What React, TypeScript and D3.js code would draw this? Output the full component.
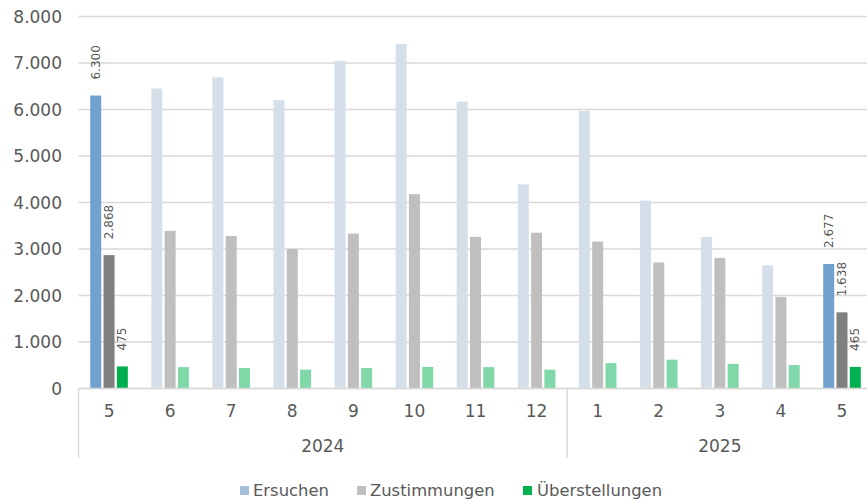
import React from "react";
import * as d3 from "d3";

const months = ["5", "6", "7", "8", "9", "10", "11", "12", "1", "2", "3", "4", "5"];
const years = [
  { label: "2024", start: 0, end: 8 },
  { label: "2025", start: 8, end: 13 },
];
const ersuchen = [6300, 6450, 6690, 6200, 7050, 7410, 6170, 4390, 5970, 4040, 3260, 2650, 2677];
const zustimmungen = [2868, 3390, 3280, 3000, 3330, 4180, 3260, 3350, 3160, 2710, 2810, 1970, 1638];
const ueberstellungen = [475, 460, 440, 405, 440, 465, 460, 405, 545, 620, 530, 505, 465];
const highlighted = [0, 12];
const yTicks = [0, 1000, 2000, 3000, 4000, 5000, 6000, 7000, 8000];
const seriesNames = ["Ersuchen", "Zustimmungen", "Überstellungen"];

const W = 867;
const H = 500;
const FONT = "'DejaVu Sans', sans-serif";

const series = [
  { name: seriesNames[0], values: ersuchen, strong: "#71A2CE", faded: "#D5DFEA", legend: "#A7BED8" },
  { name: seriesNames[1], values: zustimmungen, strong: "#7F7F7F", faded: "#BFBFBF", legend: "#BFBFBF" },
  { name: seriesNames[2], values: ueberstellungen, strong: "#00B050", faded: "#80D8A8", legend: "#00B050" },
];

const fmt = (v: number) => d3.format(",")(v).replace(/,/g, ".");

export default function App() {
  const left = 78.5;
  const step = 61.08;
  const right = left + step * months.length;
  const y = d3.scaleLinear().domain([0, 8000]).range([388.5, 16.5]);
  const x = d3
    .scaleBand<number>()
    .domain(months.map((_, i) => i))
    .range([left, right])
    .paddingInner(0)
    .paddingOuter(0);
  const barW = 11;
  const barStep = 13.3;

  const legendItems = [
    { x: 240, textX: 253 },
    { x: 357, textX: 370 },
    { x: 523, textX: 537 },
  ];

  return (
    <div style={{ position: "absolute", left: 0, top: 0 }}>
      <svg width={W} height={H} style={{ display: "block", background: "#fff" }}>
        {yTicks.map((t) => (
          <line
            key={"g" + t}
            x1={left}
            x2={right}
            y1={y(t)}
            y2={y(t)}
            stroke="#D9D9D9"
            strokeWidth={1.3}
          />
        ))}
        {yTicks.map((t) => (
          <text
            key={"yl" + t}
            x={62}
            y={y(t)}
            dy="0.36em"
            textAnchor="end"
            fontFamily={FONT}
            fontSize={17}
            fill="#595959"
          >
            {fmt(t)}
          </text>
        ))}
        {months.map((_, i) => {
          const cx = (x(i) as number) + x.bandwidth() / 2;
          const hl = highlighted.includes(i);
          return (
            <g key={"b" + i}>
              {series.map((s, k) => {
                const bx = cx + (k - 1) * barStep - barW / 2;
                const v = s.values[i];
                return (
                  <g key={k}>
                    <rect
                      x={bx}
                      y={y(v)}
                      width={barW}
                      height={y(0) - y(v)}
                      fill={hl ? s.strong : s.faded}
                    />
                    {hl && (
                      <text
                        transform={`translate(${bx + barW / 2 + 4},${y(v) - 16}) rotate(-90)`}
                        fontFamily={FONT}
                        fontSize={12}
                        fill="#595959"
                      >
                        {fmt(v)}
                      </text>
                    )}
                  </g>
                );
              })}
            </g>
          );
        })}
        <line x1={left} x2={right} y1={y(0)} y2={y(0)} stroke="#D9D9D9" strokeWidth={1.5} />
        {months.map((m, i) => (
          <text
            key={"m" + i}
            x={(x(i) as number) + x.bandwidth() / 2}
            y={411}
            dy="0.36em"
            textAnchor="middle"
            fontFamily={FONT}
            fontSize={17}
            fill="#595959"
          >
            {m}
          </text>
        ))}
        {years.map((yr) => (
          <g key={yr.label}>
            <line
              x1={x(yr.start) as number}
              x2={x(yr.start) as number}
              y1={y(0)}
              y2={458}
              stroke="#D9D9D9"
              strokeWidth={1.5}
            />
            <text
              x={((x(yr.start) as number) + (x(yr.end - 1) as number) + x.bandwidth()) / 2}
              y={446}
              dy="0.36em"
              textAnchor="middle"
              fontFamily={FONT}
              fontSize={17}
              fill="#595959"
            >
              {yr.label}
            </text>
          </g>
        ))}
        {series.map((s, k) => (
          <g key={"lg" + k}>
            <rect x={legendItems[k].x} y={486} width={9} height={9} fill={s.legend} />
            <text
              x={legendItems[k].textX}
              y={490.5}
              dy="0.36em"
              fontFamily={FONT}
              fontSize={16.4}
              fill="#595959"
            >
              {s.name}
            </text>
          </g>
        ))}
      </svg>
    </div>
  );
}
